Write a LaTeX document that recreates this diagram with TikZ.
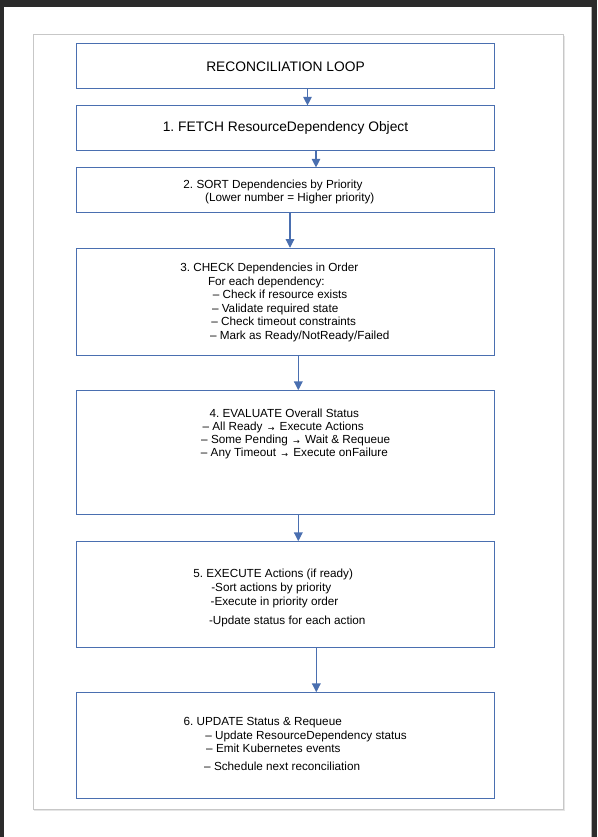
\documentclass[tikz,border=0pt]{standalone}
\usepackage{fontspec}
\setmainfont{Liberation Sans}
\newfontfamily\arrowfont{DejaVu Sans}
\usetikzlibrary{arrows.meta,calc}
\definecolor{flowblue}{HTML}{4A6FB0}
\definecolor{pagedark}{HTML}{2B2B2B}
\newcommand{\toarrow}{\,{\arrowfont\fontsize{6}{6}\selectfont\raisebox{-0.6pt}{→}}\,}
\frenchspacing
\begin{document}
\begin{tikzpicture}[
  x=0.75pt, y=-0.75pt,
  stepbox/.style={draw=flowblue, line width=0.8pt, minimum width=313.2pt,
                  minimum height=#1, inner sep=0pt,
                  font=\fontsize{10.35}{12}\selectfont},
  stepbox/.default=33.5pt,
  steptext/.style={anchor=north west, inner sep=0pt, align=left,
                   font=\fontsize{8.8}{#1}\selectfont},
  arrow/.style={-{Triangle[length=6.5pt,width=6.5pt]}, draw=flowblue, line width=0.8pt},
]
\useasboundingbox (0,0) rectangle (597,837);

% ── Page ──
\fill[pagedark] (0,0) rectangle (597,837);
\fill[white] (4,7.3) rectangle (591,837);
\draw[black!30] (591.5,7.3) -- (591.5,837);
\draw[black!22, line width=0.75pt] (33,35) rectangle (563.5,809.5);
\draw[black!10, line width=0.75pt] (564.5,36) -- (564.5,810.5) -- (34,810.5);

% ── Steps ──
\node[stepbox] (loop) at (285.5,66.3) {RECONCILIATION LOOP};
\node[stepbox] (fetch) at (285.5,128.3) {1. FETCH ResourceDependency Object};
\node[stepbox] (sort) at (285.5,190.3) {};
\node[stepbox=80.25pt] (check) at (285.5,301.8) {};
\node[stepbox=93.2pt] (evaluate) at (285.5,452.8) {};
\node[stepbox=79.7pt] (execute) at (285.5,594.8) {};
\node[stepbox=79.7pt] (update) at (285.5,745.8) {};

% ── Step texts ──
\node[steptext=9.75pt] (sorttext) at (183.2,179.4)
  {2. SORT Dependencies by Priority\\
   \hspace*{16.3pt}(Lower number = Higher priority)};
\node[steptext=10.1pt] (checktext) at (180,263)
  {3. CHECK Dependencies in Order\\
   \hspace*{20.8pt}For each dependency:\\
   \hspace*{24.5pt}– Check if resource exists\\
   \hspace*{23.8pt}– Validate required state\\
   \hspace*{23.3pt}– Check timeout constraints\\
   \hspace*{22.3pt}– Mark as Ready/NotReady/Failed};
\node[steptext=9.8pt] (evaluatetext) at (200.7,408.4)
  {\hspace*{6.45pt}4. EVALUATE Overall Status\\
   \hspace*{1.2pt}– All Ready \toarrow{} Execute Actions\\
   \hspace*{0.2pt}– Some Pending \toarrow{} Wait \& Requeue\\
   – Any Timeout \toarrow{} Execute onFailure};
\node[steptext=10.5pt] (executetext) at (193,568.4)
  {5. EXECUTE Actions (if ready)\\
   \hspace*{13.5pt}-Sort actions by priority\\
   \hspace*{13pt}-Execute in priority order\\[3.75pt]
   \hspace*{11.8pt}-Update status for each action};
\node[steptext=10.1pt] (updatetext) at (183.3,717.4)
  {6. UPDATE Status \& Requeue\\
   \hspace*{16.3pt}– Update ResourceDependency status\\
   \hspace*{17pt}– Emit Kubernetes events\\[3.4pt]
   \hspace*{15.5pt}– Schedule next reconciliation};

% ── Arrows ──
\draw[arrow] ($(loop.south)+(22,0)$) -- ($(fetch.north)+(22,0)$);
\draw[arrow] ($(fetch.south)+(30.5,0)$) -- ($(sort.north)+(30.5,0)$);
\draw[arrow] ($(sort.south)+(4.5,0)$) -- ($(check.north)+(4.5,0)$);
\draw[arrow] ($(check.south)+(12.8,0)$) -- ($(evaluate.north)+(12.8,0)$);
\draw[arrow] ($(evaluate.south)+(12.8,0)$) -- ($(execute.north)+(12.8,0)$);
\draw[arrow] ($(execute.south)+(30.8,0)$) -- ($(update.north)+(30.8,0)$);

\end{tikzpicture}
\end{document}
